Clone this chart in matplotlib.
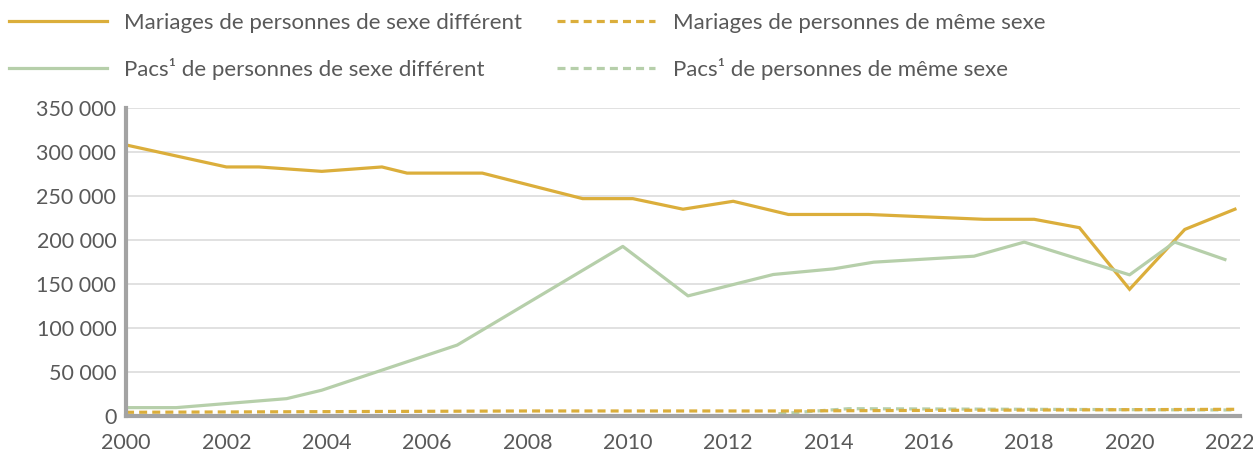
import matplotlib
matplotlib.use("Agg")
import matplotlib.pyplot as plt
from matplotlib.ticker import FuncFormatter, MultipleLocator

# series (vertex years as drawn)
mar_diff_years = [2000, 2002, 2002.65, 2003.9, 2005.1, 2005.6, 2007.1, 2009.1, 2010.1,
                  2011.1, 2012.1, 2013.2, 2014.8, 2017.1, 2018.1, 2019.0, 2020.0, 2021.1, 2022.1]
mar_diff = [308000, 283000, 283000, 278000, 283000, 276000, 276000, 247000, 247000,
            235000, 244000, 229000, 229000, 223500, 223500, 214000, 144000, 212000, 235000]

pacs_diff_years = [2000, 2001, 2003.2, 2003.9, 2006.6, 2009.9, 2011.2, 2012.9, 2014.1,
                   2014.9, 2016.9, 2017.9, 2020.0, 2020.9, 2021.9]
pacs_diff = [9500, 9500, 19700, 29300, 80600, 192700, 136500, 160800, 167200,
             174800, 181600, 197600, 160400, 197600, 177800]

mar_same_years = [2000, 2008, 2013, 2022.1]
mar_same = [4200, 5700, 5700, 7600]

pacs_same_years = [2013, 2014.4, 2022.1]
pacs_same = [2500, 8300, 6800]

labels = ["Mariages de personnes de sexe différent",
          "Pacs¹ de personnes de sexe différent",
          "Mariages de personnes de même sexe",
          "Pacs¹ de personnes de même sexe"]

GOLD = "#DBAE3B"
SAGE = "#B6CFAA"
TEXT = "#595959"

plt.rcParams['font.family'] = ['Lato', 'DejaVu Sans']

fig = plt.figure(figsize=(12.53, 4.53), dpi=100)
ax = fig.add_axes([0.1006, 0.0817, 0.8890, 0.6799])

l1, = ax.plot(mar_diff_years, mar_diff, color=GOLD, lw=2.3, solid_joinstyle='miter')
l2, = ax.plot(pacs_diff_years, pacs_diff, color=SAGE, lw=2.3)
l4, = ax.plot(pacs_same_years, pacs_same, color=SAGE, lw=2.3, ls=(0, (2.5, 1.6)))
l3, = ax.plot(mar_same_years, mar_same, color=GOLD, lw=2.3, ls=(0, (2.5, 1.6)))

ax.set_xlim(2000, 2022.2)
ax.set_ylim(0, 350000)
ax.xaxis.set_major_locator(MultipleLocator(2))
ax.yaxis.set_major_locator(MultipleLocator(50000))
ax.yaxis.set_major_formatter(FuncFormatter(lambda v, p: f"{int(v):,}".replace(",", " ")))

ax.grid(axis='y', color='#D9D9D9', lw=1.1)
ax.set_axisbelow(True)
for s in ['top', 'right']:
    ax.spines[s].set_visible(False)
for s in ['left', 'bottom']:
    ax.spines[s].set_color('#A3A3A3')
    ax.spines[s].set_linewidth(3)
ax.tick_params(axis='both', length=0, labelsize=15.5, labelcolor=TEXT)
ax.tick_params(axis='y', pad=7)
ax.tick_params(axis='x', pad=12)

leg = fig.legend([l1, l2, l3, l4], labels, ncol=2, loc='upper left',
                 bbox_to_anchor=(0.0, 0.991), frameon=False, fontsize=16,
                 handlelength=4.4, handletextpad=0.8, columnspacing=1.57,
                 labelspacing=1.13, borderaxespad=0.0)
for t in leg.get_texts():
    t.set_color(TEXT)

fig.savefig("out.png", dpi=100)
